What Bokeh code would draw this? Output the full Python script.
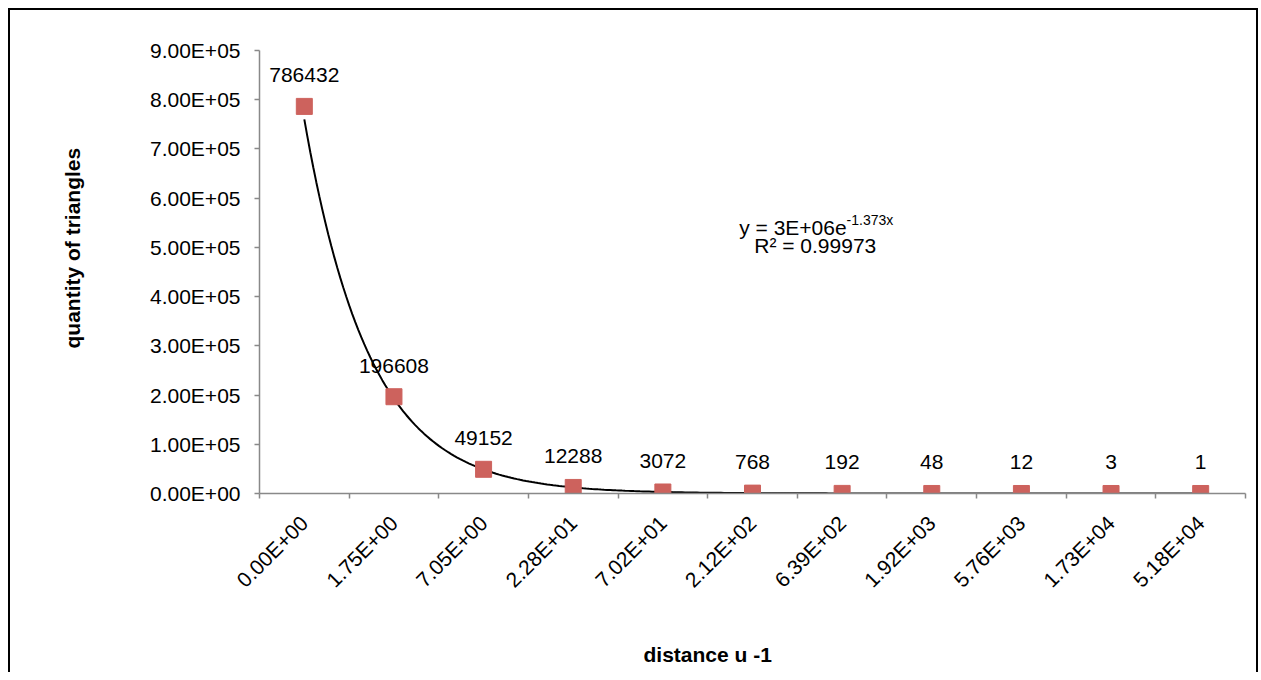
import math
import numpy as np
from bokeh.plotting import figure
from bokeh.models import (ColumnDataSource, FixedTicker, CustomJSTickFormatter,
                          Label, LabelSet, Range1d, Title)
from bokeh.core.properties import value
from bokeh.embed import file_html
from bokeh.resources import INLINE

# ---- data ----
categories = ["0.00E+00", "1.75E+00", "7.05E+00", "2.28E+01", "7.02E+01", "2.12E+02",
              "6.39E+02", "1.92E+03", "5.76E+03", "1.73E+04", "5.18E+04"]
quantities = [786432, 196608, 49152, 12288, 3072, 768, 192, 48, 12, 3, 1]
y_ticks = [0, 100000, 200000, 300000, 400000, 500000, 600000, 700000, 800000, 900000]
# exponential trendline as displayed: y = 3E+06 e^(-1.373x)
trend_a = 3.0e6
trend_b = -1.373
eq_main = "y = 3E+06e"
eq_sup = "-1.373x"
eq_r2 = "R\u00b2 = 0.99973"
x_title = "distance   u -1"
y_title = "quantity of triangles"

FONT = "Liberation Sans"
FS = "21px"
idx = list(range(1, len(categories) + 1))

p = figure(width=1250, height=664, output_backend="svg", toolbar_location=None,
           x_range=Range1d(0.5, len(categories) + 0.5), y_range=Range1d(0, 900000),
           min_border_left=249, min_border_right=15, min_border_top=40,
           min_border_bottom=181)
p.styles = {"margin-left": "8px", "margin-top": "8px",
            "border-left": "2px solid black", "border-top": "2px solid black",
            "border-right": "2px solid black"}
p.outline_line_color = None
p.xgrid.grid_line_color = None
p.ygrid.grid_line_color = None
p.background_fill_color = "white"
p.border_fill_color = "white"

AX = "#898989"
# x axis
p.xaxis.ticker = FixedTicker(ticks=idx, minor_ticks=[i + 0.5 for i in range(0, len(categories) + 1)])
p.xaxis.major_label_overrides = {i: c for i, c in zip(idx, categories)}
p.xaxis.major_label_orientation = math.pi / 4
p.xaxis.major_tick_line_color = None
p.xaxis.major_tick_out = 0
p.xaxis.major_tick_in = 0
p.xaxis.minor_tick_line_color = AX
p.xaxis.minor_tick_line_width = 1.5
p.xaxis.minor_tick_out = 5
p.xaxis.minor_tick_in = 0
p.xaxis.axis_line_color = AX
p.xaxis.axis_line_width = 1.5
p.xaxis.major_label_text_font = FONT
p.xaxis.major_label_text_font_size = FS
p.xaxis.major_label_text_color = "black"
p.xaxis.major_label_standoff = 21
# spacer so the axis title (a Title panel) sits further out
p.xaxis.axis_label = " "
p.xaxis.axis_label_text_font_size = "1px"
p.xaxis.axis_label_standoff = 34

# y axis
p.yaxis.ticker = FixedTicker(ticks=y_ticks)
p.yaxis.formatter = CustomJSTickFormatter(code="""
const s = tick.toExponential(2).toUpperCase();
const parts = s.split('E');
const e = parts[1];
const sign = e[0] === '-' ? '-' : '+';
let d = e.replace('+', '').replace('-', '');
if (d.length < 2) { d = '0' + d; }
return parts[0] + 'E' + sign + d;
""")
p.yaxis.major_tick_line_color = AX
p.yaxis.major_tick_line_width = 1.5
p.yaxis.major_tick_out = 5
p.yaxis.major_tick_in = 0
p.yaxis.minor_tick_line_color = None
p.yaxis.axis_line_color = AX
p.yaxis.axis_line_width = 1.5
p.yaxis.major_label_text_font = FONT
p.yaxis.major_label_text_font_size = FS
p.yaxis.major_label_text_color = "black"
p.yaxis.major_label_standoff = 14
p.yaxis.axis_label = " "
p.yaxis.axis_label_text_font_size = "1px"
p.yaxis.axis_label_standoff = 59

# trendline
xs = np.linspace(1, len(categories), 300)
ys = trend_a * np.exp(trend_b * xs)
p.line(xs, ys, line_color="black", line_width=2)

# markers
src = ColumnDataSource(dict(x=idx, y=quantities, lbl=[str(q) for q in quantities]))
p.scatter("x", "y", source=src, marker="square", size=16,
          fill_color="#CD625D", line_color="#CD625D")

labels = LabelSet(x="x", y="y", text="lbl", source=src, y_offset=24,
                  text_align="center", text_baseline="alphabetic",
                  text_font=value(FONT), text_font_size=value(FS), text_color="black")
p.add_layout(labels)

# equation
p.add_layout(Label(x=7.05, y=540406, text=eq_main, text_align="right",
                   text_baseline="alphabetic", text_font=FONT,
                   text_font_size=FS, text_color="black"))
p.add_layout(Label(x=7.05, y=554628, text=eq_sup, text_align="left",
                   text_baseline="alphabetic", text_font=FONT,
                   text_font_size="14px", text_color="black"))
p.add_layout(Label(x=6.70, y=502822, text=eq_r2, text_align="center",
                   text_baseline="alphabetic", text_font=FONT,
                   text_font_size=FS, text_color="black"))

# axis titles
has_standoff = "standoff" in Title.properties()
ty = Title(text=y_title, align="left", offset=145,
           text_font=FONT, text_font_size=FS, text_font_style="bold",
           text_color="black")
tx = Title(text=x_title, align="left", offset=384,
           text_font=FONT, text_font_size=FS, text_font_style="bold",
           text_color="black")
if has_standoff:
    ty.standoff = 0
    tx.standoff = 0
p.add_layout(ty, "left")
p.add_layout(tx, "below")

open("out.html", "w").write(file_html(p, INLINE))
